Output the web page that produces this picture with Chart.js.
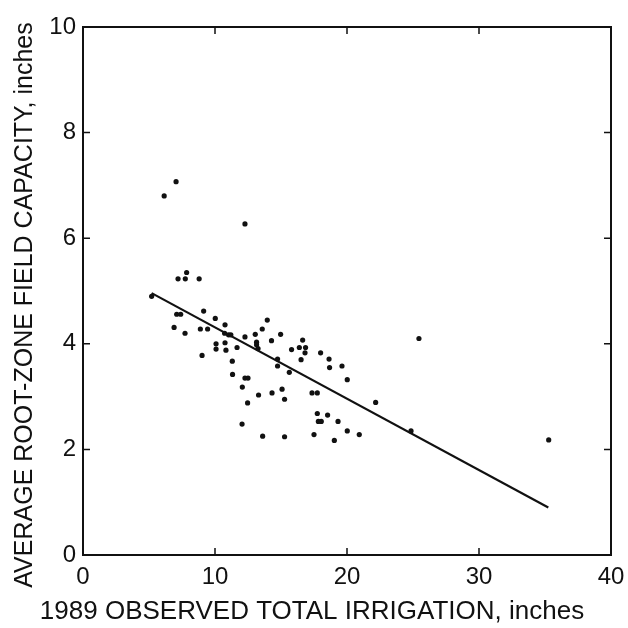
<!DOCTYPE html>
<html>
<head>
<meta charset="utf-8">
<script src="https://cdn.jsdelivr.net/npm/chart.js@4/dist/chart.umd.min.js"></script>
<style>
  html, body { margin: 0; padding: 0; background: #fff; }
  #wrap { width: 628px; height: 628px; }
</style>
</head>
<body>
<div id="wrap"><canvas id="chart" width="628" height="628"></canvas></div>
<script>
// Datos (pulgadas)
var obsX = [5.2, 6.15, 7.05, 12.27, 7.85, 7.2, 7.75, 8.8, 7.1, 7.4,
            9.14, 6.9, 7.73, 10.02, 10.76, 8.89, 9.44, 10.73, 11.03, 11.2,
            12.27, 10.08, 10.08, 10.76, 10.83, 11.67, 9.02, 11.31, 11.33, 12.27,
            12.5, 12.07, 13.96, 13.58, 13.05, 14.97, 13.15, 13.15, 13.26, 14.28,
            16.64, 16.39, 16.86, 15.8, 16.82, 16.52, 18.0, 18.64, 18.68, 19.62,
            20.02, 14.74, 14.74, 15.63, 15.08, 15.27, 14.32, 13.3, 12.47, 17.35,
            17.75, 17.75, 18.53, 17.83, 18.05, 19.32, 20.02, 20.93, 12.05, 13.61,
            15.27, 17.5, 19.04, 22.17, 24.85, 25.45, 35.28];
var obsY = [4.9, 6.8, 7.07, 6.27, 5.35, 5.23, 5.23, 5.23, 4.56, 4.56,
            4.62, 4.31, 4.2, 4.48, 4.36, 4.28, 4.28, 4.2, 4.17, 4.17,
            4.13, 4.0, 3.9, 4.02, 3.88, 3.93, 3.78, 3.67, 3.42, 3.35,
            3.35, 3.18, 4.45, 4.28, 4.18, 4.18, 4.03, 3.98, 3.91, 4.06,
            4.07, 3.93, 3.93, 3.89, 3.83, 3.7, 3.83, 3.71, 3.55, 3.58,
            3.32, 3.71, 3.58, 3.46, 3.14, 2.95, 3.07, 3.03, 2.88, 3.07,
            3.07, 2.68, 2.65, 2.53, 2.53, 2.53, 2.35, 2.28, 2.48, 2.25,
            2.24, 2.28, 2.17, 2.89, 2.35, 4.1, 2.18];

// Recta de ajuste (extremos leidos)
var fitX = [5.2, 35.25];
var fitY = [4.96, 0.9];

// Marcas de los ejes
var xTicks = [0, 10, 20, 30, 40];
var yTicks = [0, 2, 4, 6, 8, 10];

var xTitle = '1989 OBSERVED TOTAL IRRIGATION, inches';
var yTitle = 'AVERAGE ROOT-ZONE FIELD CAPACITY, inches';

var ink = '#111';
var fontFam = "'Liberation Sans', Arial, Helvetica, sans-serif";

var points = obsX.map(function(x, i) { return { x: x, y: obsY[i] }; });
var fitLine = fitX.map(function(x, i) { return { x: x, y: fitY[i] }; });

// Marco, marcas hacia adentro y titulos de los ejes
var framePlugin = {
    id: 'frame',
    afterDraw: function(chart) {
        var ctx = chart.ctx;
        var a = chart.chartArea;
        var sx = chart.scales.x;
        var sy = chart.scales.y;
        var len = 7;
        ctx.save();
        ctx.strokeStyle = ink;
        ctx.lineWidth = 2;
        ctx.strokeRect(a.left, a.top, a.right - a.left, a.bottom - a.top);
        ctx.lineWidth = 1.5;
        ctx.beginPath();
        xTicks.forEach(function(v) {
            var px = sx.getPixelForValue(v);
            ctx.moveTo(px, a.bottom); ctx.lineTo(px, a.bottom - len);
            ctx.moveTo(px, a.top); ctx.lineTo(px, a.top + len);
        });
        yTicks.forEach(function(v) {
            var py = sy.getPixelForValue(v);
            ctx.moveTo(a.left, py); ctx.lineTo(a.left + len, py);
            ctx.moveTo(a.right, py); ctx.lineTo(a.right - len, py);
        });
        ctx.stroke();

        // titulos (en el original no estan centrados sobre el area)
        ctx.fillStyle = ink;
        ctx.textAlign = 'center';
        ctx.textBaseline = 'middle';
        ctx.font = '26px ' + fontFam;
        ctx.fillText(xTitle, 312, 612);
        ctx.translate(25, 305);
        ctx.rotate(-Math.PI / 2);
        ctx.font = '25px ' + fontFam;
        ctx.fillText(yTitle, 0, 0);
        ctx.restore();
    }
};

var chart = new Chart(document.getElementById('chart').getContext('2d'), {
    type: 'scatter',
    data: {
        datasets: [
            {
                label: 'observed',
                data: points,
                backgroundColor: ink,
                borderColor: ink,
                pointRadius: 2.6,
                pointBorderWidth: 0
            },
            {
                label: 'fit',
                type: 'line',
                data: fitLine,
                borderColor: ink,
                borderWidth: 2.2,
                pointRadius: 0,
                fill: false
            }
        ]
    },
    options: {
        responsive: false,
        animation: false,
        layout: { padding: { top: 27, right: 17, left: 0, bottom: 0 } },
        plugins: {
            legend: { display: false },
            tooltip: { enabled: false }
        },
        scales: {
            x: {
                type: 'linear',
                min: 0,
                max: 40,
                afterFit: function(s) {
                    s.height = 73;
                    // que las etiquetas no empujen el area del grafico
                    s.paddingLeft = 0;
                    s.paddingRight = 0;
                },
                grid: { display: false, drawTicks: false },
                border: { display: false },
                ticks: {
                    stepSize: 10,
                    padding: 8,
                    color: ink,
                    font: { family: fontFam, size: 24 }
                }
            },
            y: {
                type: 'linear',
                min: 0,
                max: 10,
                afterFit: function(s) { s.width = 83; },
                grid: { display: false, drawTicks: false },
                border: { display: false },
                ticks: {
                    stepSize: 2,
                    padding: 7,
                    color: ink,
                    font: { family: fontFam, size: 24 }
                }
            }
        }
    },
    plugins: [framePlugin]
});
</script>
</body>
</html>
